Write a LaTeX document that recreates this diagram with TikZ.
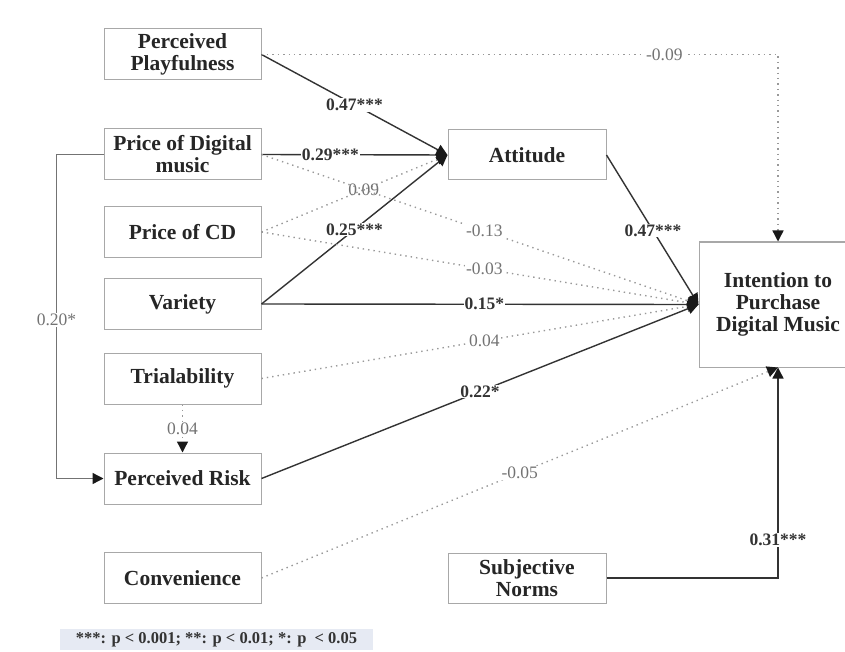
\documentclass[tikz,border=0pt]{standalone}
\usepackage{fontspec}
\setmainfont{Liberation Serif}
\usetikzlibrary{arrows.meta,calc}
\definecolor{boxgray}{HTML}{A8A8A8}
\definecolor{legendbg}{HTML}{E6EAF3}
\begin{document}
\begin{tikzpicture}[x=1pt,y=-1pt,
  box/.style={draw=boxgray, line width=1pt, fill=white, minimum width=157pt,
    minimum height=51pt, align=center, inner sep=0pt, text=black!85,
    font=\fontsize{21.5}{22}\selectfont\bfseries},
  tip/.style={-{Triangle[length=11pt,width=11pt,color=black!90]}},
  sig/.style={draw=black!80, line width=1.4pt, tip},
  ns/.style={draw=black!40, line width=1.4pt, dash pattern=on 1.4pt off 4pt, tip},
  siglab/.style={fill=white, inner sep=1pt, text=black!80,
    font=\fontsize{17.5}{19}\selectfont\bfseries},
  nslab/.style={fill=white, inner sep=1pt, text=black!55,
    font=\fontsize{17.5}{19}\selectfont},
]
\useasboundingbox (0,0) rectangle (845,652);

% exogenous constructs
\node[box] (pp)   at (182.5,54.5)  {Perceived\\Playfulness};
\node[box] (pd)   at (182.5,154.5) {Price of Digital\\music};
\node[box] (cd)   at (182.5,232)   {Price of CD};
\node[box] (var)  at (182.5,304)   {Variety};
\node[box] (tri)  at (182.5,378.5) {Trialability};
\node[box] (pr)   at (182.5,478.5) {Perceived Risk};
\node[box] (conv) at (182.5,578)   {Convenience};

% mediator, subjective norms and outcome
\node[box, minimum width=158pt, minimum height=50pt] (att) at (527,155) {Attitude};
\node[box, minimum width=158pt, minimum height=50pt] (sn)  at (527,578) {Subjective\\Norms};
\node[box, minimum width=158pt, minimum height=125pt] (int) at (778,304.5)
  {Intention to\\Purchase\\Digital Music};

% paths to attitude
\draw[sig] (pp.east)  -- node[siglab, pos=0.5]  {0.47***} (att.west);
\draw[sig] (pd.east)  -- node[siglab, pos=0.37] {0.29***} (att.west);
\draw[ns]  (cd.east)  -- node[nslab, pos=0.55, fill=none] {0.09} (att.west);
\draw[sig] (var.east) -- node[siglab, pos=0.5]  {0.25***} (att.west);

% paths to purchase intention
\draw[ns]  (pd.east)  -- node[nslab, pos=0.51]  {-0.13} (int.west);
\draw[ns]  (cd.east)  -- node[nslab, pos=0.51]  {-0.03} (int.west);
\draw[sig] (var.east) -- node[siglab, pos=0.51] {0.15*} (int.west);
\draw[ns]  (tri.east) -- node[nslab, pos=0.51]  {0.04} (int.west);
\draw[sig] (pr.east)  -- node[siglab, pos=0.5]  {0.22*} (int.west);
\draw[sig] (att.east) -- node[siglab, pos=0.505] {0.47***} (int.west);
\draw[ns]  (conv.east) -- node[nslab, pos=0.5] {-0.05} (int.south);
\draw[ns]  (pp.east) -- node[nslab, pos=0.78] {-0.09} (pp.east -| int.north) -- (int.north);
\draw[sig] (sn.east) -| node[siglab, pos=0.59] {0.31***} (int.south);

% paths to perceived risk
\draw[draw=black!55, line width=1.4pt, tip] (pd.west) -- ++(-47,0)
  |- node[nslab, pos=0.255] {0.20*} (pr.west);
\draw[ns] (tri.south) -- node[nslab, pos=0.5] {0.04} (pr.north);

% significance legend
\node[fill=legendbg, minimum width=313pt, minimum height=21pt, inner sep=0pt,
  text=black!80, font=\fontsize{16.5}{18}\selectfont\bfseries] (legend) at (216.5,639.5)
  {***: p < 0.001; **: p < 0.01; *: p \ < 0.05};
\end{tikzpicture}
\end{document}
